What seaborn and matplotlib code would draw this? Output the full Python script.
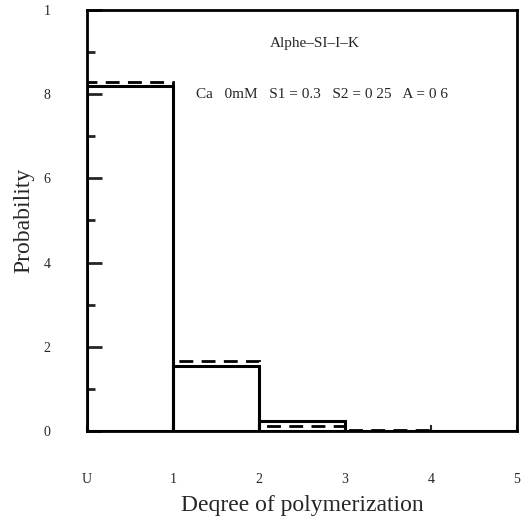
import matplotlib
matplotlib.use("Agg")
import matplotlib.pyplot as plt
import seaborn as sns
import numpy as np

sns.set_style("white")
plt.rcParams['font.family'] = ['Liberation Serif', 'DejaVu Serif']

degree_centers = [0.5, 1.5, 2.5, 3.5, 4.5]
bin_edges = [0, 1, 2, 3, 4, 5]
prob_solid = [0.818, 0.155, 0.024, 0.0, 0.0]
prob_dashed = [0.829, 0.167, 0.013, 0.003, 0.0]
y_ticks = [0, 0.2, 0.4, 0.6, 0.8, 1.0]
y_ticklabels = ["0", "2", "4", "6", "8", "1"]
x_ticks = [0, 1, 2, 3, 4, 5]
x_ticklabels = ["U", "1", "2", "3", "4", "5"]

fig = plt.figure(figsize=(5.23, 5.18), dpi=100)
ax = fig.add_axes([0.166, 0.168, 0.8225, 0.813])

sns.histplot(x=degree_centers, weights=prob_dashed, bins=bin_edges, fill=False,
             element="bars", color="black", linewidth=2.0, linestyle=(0, (5, 3)), ax=ax)
sns.histplot(x=degree_centers, weights=prob_solid, bins=bin_edges, fill=False,
             element="bars", color="black", linewidth=2.2, ax=ax)

ax.set_xlim(0, 5)
ax.set_ylim(0, 1.0)
ax.set_yticks(y_ticks)
ax.set_yticklabels(y_ticklabels)
ax.set_yticks(np.arange(0.1, 1.0, 0.2), minor=True)
ax.set_xticks(x_ticks)
ax.set_xticklabels(x_ticklabels)
ax.tick_params(axis='y', which='major', direction='in', length=11, width=2, pad=26,
               labelsize=10, left=True)
ax.tick_params(axis='y', which='minor', direction='in', length=6, width=2, left=True)
ax.tick_params(axis='x', which='major', direction='in', length=4, width=1.5, pad=30,
               labelsize=10, bottom=True)

for sp in ax.spines.values():
    sp.set_linewidth(2)
    sp.set_color("black")

ax.set_xlabel("Deqree of polymerization", fontsize=17, labelpad=7)
ax.set_ylabel("Probability", fontsize=17, labelpad=7)

ax.text(2.13, 0.92, "Alphe\u2013SI\u2013I\u2013K", fontsize=11, ha="left", va="center")
ax.text(1.27, 0.80, "Ca   0mM   S1 = 0.3   S2 = 0 25   A = 0 6", fontsize=11,
        ha="left", va="center")

fig.savefig("out.png", dpi=100)
